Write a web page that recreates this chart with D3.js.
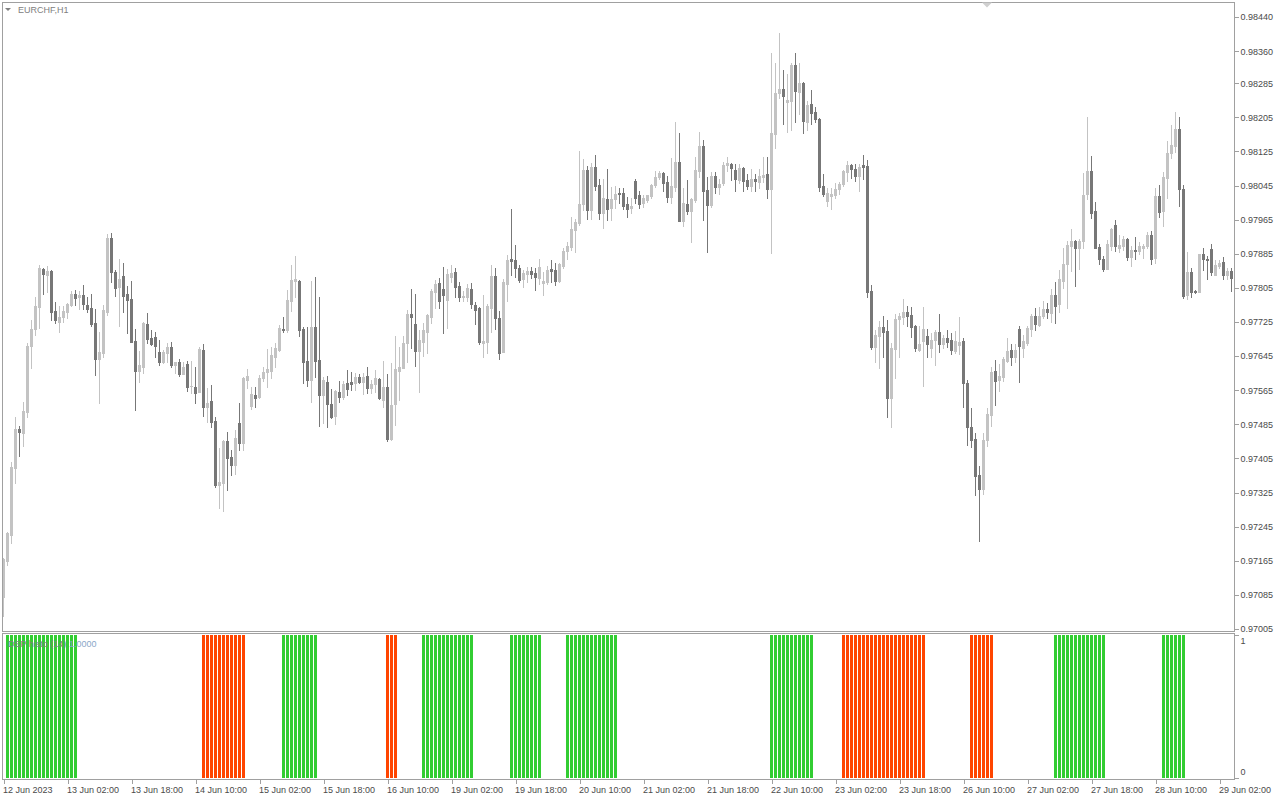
<!DOCTYPE html>
<html>
<head>
<meta charset="utf-8">
<script src="https://cdn.jsdelivr.net/npm/d3@7/dist/d3.min.js"></script>
<style>
html,body{margin:0;padding:0;background:#ffffff;}
svg{display:block;}
text{font-family:"Liberation Sans",Arial,sans-serif;font-size:9px;}
</style>
</head>
<body>
<svg id="chart" width="1280" height="800"></svg>
<script>
// ---------- DATA ----------
const symbolLabel = "EURCHF,H1";
const indicatorName = "DSP histo (14)";
const indicatorValue = "1.0000";

const opens = [
0.97080,0.97165,0.97226,0.97383,0.97474,0.97465,0.97515,0.97669,0.97708,0.97761,
0.97849,0.97835,0.97845,0.97751,0.97726,0.97737,0.97748,0.97765,0.97791,0.97784,
0.97788,0.97765,0.97757,0.97722,0.97637,0.97653,0.97749,0.97921,0.97843,0.97808,
0.97833,0.97791,0.97779,0.97680,0.97611,0.97620,0.97720,0.97688,0.97689,0.97655,
0.97630,0.97653,0.97667,0.97625,0.97631,0.97603,0.97626,0.97574,0.97572,0.97561,
0.97659,0.97526,0.97540,0.97493,0.97343,0.97348,0.97447,0.97408,0.97390,0.97489,
0.97442,0.97589,0.97528,0.97554,0.97550,0.97594,0.97608,0.97611,0.97644,0.97659,
0.97709,0.97705,0.97774,0.97822,0.97821,0.97709,0.97633,0.97589,0.97714,0.97636,
0.97554,0.97584,0.97533,0.97505,0.97561,0.97550,0.97581,0.97584,0.97583,0.97597,
0.97585,0.97598,0.97571,0.97579,0.97591,0.97542,0.97572,0.97451,0.97533,0.97610,
0.97618,0.97676,0.97744,0.97720,0.97658,0.97679,0.97702,0.97737,0.97796,0.97816,
0.97802,0.97777,0.97831,0.97842,0.97809,0.97784,0.97784,0.97802,0.97765,0.97758,
0.97676,0.97679,0.97758,0.97833,0.97735,0.97655,0.97814,0.97873,0.97870,0.97852,
0.97825,0.97837,0.97845,0.97839,0.97829,0.97817,0.97819,0.97849,0.97847,0.97822,
0.97856,0.97892,0.97900,0.97941,0.97958,0.98002,0.98081,0.97988,0.98088,0.98046,
0.97981,0.98013,0.97992,0.98013,0.98027,0.98028,0.98002,0.97993,0.98056,0.98023,
0.98003,0.98011,0.98020,0.98046,0.98064,0.98074,0.98054,0.98017,0.98042,0.98101,
0.97962,0.98002,0.97986,0.98011,0.98080,0.98138,0.98034,0.97999,0.98067,0.98042,
0.98052,0.98093,0.98095,0.98081,0.98058,0.98087,0.98058,0.98045,0.98061,0.98054,
0.98064,0.98072,0.98036,0.98165,0.98263,0.98271,0.98240,0.98243,0.98328,0.98265,
0.98286,0.98195,0.98236,0.98218,0.98201,0.98044,0.98009,0.98020,0.98023,0.98036,
0.98049,0.98077,0.98093,0.98084,0.98068,0.98093,0.98091,0.97798,0.97667,0.97693,
0.97714,0.97704,0.97546,0.97662,0.97731,0.97737,0.97749,0.97741,0.97716,0.97659,
0.97680,0.97692,0.97665,0.97683,0.97702,0.97673,0.97688,0.97683,0.97657,0.97671,
0.97680,0.97581,0.97479,0.97451,0.97366,0.97333,0.97448,0.97508,0.97610,0.97589,
0.97597,0.97634,0.97659,0.97644,0.97709,0.97665,0.97676,0.97709,0.97739,0.97718,
0.97739,0.97755,0.97747,0.97788,0.97766,0.97822,0.97861,0.97902,0.97915,0.97899,
0.97916,0.98024,0.98079,0.97985,0.97900,0.97873,0.97849,0.97904,0.97952,0.97898,
0.97904,0.97920,0.97878,0.97894,0.97892,0.97898,0.97902,0.97929,0.97876,0.98021,
0.97985,0.98062,0.98122,0.98138,0.98178,0.98036,0.97788,0.97843,0.97798,0.97796,
0.97884,0.97873,0.97896,0.97835,0.97856,0.97866,0.97834,0.97845];

const highs = [
0.97172,0.97232,0.97397,0.97501,0.97482,0.97538,0.97676,0.97730,0.97783,0.97859,
0.97851,0.97856,0.97847,0.97772,0.97762,0.97762,0.97769,0.97798,0.97800,0.97798,
0.97812,0.97783,0.97791,0.97755,0.97701,0.97765,0.97931,0.97933,0.97847,0.97872,
0.97863,0.97809,0.97821,0.97709,0.97657,0.97726,0.97745,0.97706,0.97702,0.97683,
0.97659,0.97676,0.97678,0.97632,0.97637,0.97632,0.97633,0.97633,0.97620,0.97666,
0.97673,0.97569,0.97577,0.97501,0.97429,0.97448,0.97468,0.97425,0.97472,0.97536,
0.97597,0.97615,0.97573,0.97573,0.97601,0.97620,0.97661,0.97666,0.97675,0.97718,
0.97737,0.97800,0.97859,0.97880,0.97823,0.97714,0.97714,0.97821,0.97831,0.97784,
0.97597,0.97598,0.97567,0.97565,0.97587,0.97587,0.97612,0.97608,0.97606,0.97603,
0.97606,0.97619,0.97589,0.97612,0.97593,0.97633,0.97603,0.97628,0.97692,0.97667,
0.97692,0.97753,0.97802,0.97791,0.97706,0.97723,0.97743,0.97802,0.97823,0.97827,
0.97855,0.97849,0.97859,0.97851,0.97819,0.97798,0.97814,0.97816,0.97772,0.97761,
0.97788,0.97766,0.97859,0.97852,0.97751,0.97825,0.97882,0.97990,0.97906,0.97859,
0.97848,0.97855,0.97855,0.97851,0.97873,0.97843,0.97856,0.97870,0.97864,0.97864,
0.97898,0.97913,0.97970,0.97966,0.98126,0.98107,0.98091,0.98097,0.98117,0.98060,
0.98060,0.98083,0.98042,0.98044,0.98038,0.98038,0.98017,0.98015,0.98060,0.98031,
0.98023,0.98023,0.98048,0.98079,0.98079,0.98077,0.98067,0.98110,0.98195,0.98167,
0.98038,0.98058,0.98015,0.98113,0.98170,0.98152,0.98066,0.98077,0.98077,0.98060,
0.98101,0.98113,0.98097,0.98095,0.98095,0.98089,0.98072,0.98083,0.98072,0.98083,
0.98113,0.98113,0.98355,0.98333,0.98402,0.98316,0.98306,0.98333,0.98355,0.98332,
0.98288,0.98242,0.98269,0.98230,0.98203,0.98072,0.98038,0.98038,0.98052,0.98054,
0.98081,0.98102,0.98095,0.98095,0.98095,0.98117,0.98105,0.97812,0.97706,0.97727,
0.97740,0.97730,0.97676,0.97743,0.97745,0.97779,0.97762,0.97761,0.97718,0.97716,
0.97761,0.97709,0.97700,0.97706,0.97744,0.97694,0.97706,0.97698,0.97704,0.97737,
0.97688,0.97589,0.97524,0.97464,0.97387,0.97465,0.97524,0.97620,0.97636,0.97626,
0.97644,0.97687,0.97673,0.97673,0.97716,0.97694,0.97716,0.97744,0.97757,0.97761,
0.97775,0.97770,0.97802,0.97818,0.97848,0.97899,0.97915,0.97943,0.97917,0.97919,
0.98074,0.98205,0.98114,0.98007,0.97907,0.97880,0.97917,0.97946,0.97964,0.97929,
0.97927,0.97923,0.97902,0.97925,0.97912,0.97907,0.97937,0.97938,0.98040,0.98046,
0.98077,0.98149,0.98187,0.98218,0.98206,0.98046,0.97890,0.97851,0.97800,0.97884,
0.97898,0.97880,0.97907,0.97870,0.97870,0.97878,0.97852,0.97852];

const lows = [
0.97036,0.97155,0.97207,0.97347,0.97411,0.97435,0.97503,0.97618,0.97694,0.97712,
0.97791,0.97796,0.97730,0.97723,0.97702,0.97724,0.97735,0.97762,0.97765,0.97755,
0.97755,0.97749,0.97716,0.97601,0.97534,0.97644,0.97741,0.97819,0.97786,0.97716,
0.97748,0.97698,0.97679,0.97519,0.97585,0.97606,0.97675,0.97671,0.97644,0.97625,
0.97628,0.97630,0.97619,0.97606,0.97598,0.97602,0.97564,0.97559,0.97534,0.97560,
0.97505,0.97490,0.97479,0.97337,0.97288,0.97282,0.97331,0.97366,0.97368,0.97425,
0.97425,0.97571,0.97520,0.97526,0.97546,0.97587,0.97572,0.97593,0.97620,0.97657,
0.97702,0.97702,0.97751,0.97784,0.97692,0.97583,0.97575,0.97538,0.97597,0.97481,
0.97489,0.97479,0.97499,0.97485,0.97538,0.97544,0.97554,0.97565,0.97565,0.97581,
0.97556,0.97559,0.97559,0.97561,0.97544,0.97525,0.97447,0.97448,0.97483,0.97542,
0.97616,0.97632,0.97663,0.97622,0.97561,0.97646,0.97653,0.97723,0.97757,0.97758,
0.97698,0.97712,0.97819,0.97784,0.97775,0.97775,0.97775,0.97758,0.97720,0.97673,
0.97644,0.97652,0.97702,0.97708,0.97637,0.97655,0.97775,0.97835,0.97831,0.97819,
0.97808,0.97819,0.97827,0.97800,0.97814,0.97788,0.97814,0.97819,0.97812,0.97819,
0.97851,0.97872,0.97894,0.97890,0.97952,0.97988,0.97966,0.97966,0.98034,0.97966,
0.97945,0.97964,0.97964,0.97992,0.98003,0.97989,0.97970,0.97981,0.98003,0.97993,
0.97995,0.98007,0.98015,0.98042,0.98060,0.98031,0.98007,0.98005,0.98031,0.97962,
0.97950,0.97978,0.97913,0.98007,0.98066,0.97964,0.97890,0.97994,0.98027,0.98025,
0.98046,0.98079,0.98058,0.98033,0.98050,0.98033,0.98037,0.98031,0.98031,0.98038,
0.98054,0.98015,0.97886,0.98134,0.98251,0.98189,0.98170,0.98174,0.98195,0.98212,
0.98169,0.98175,0.98189,0.98195,0.98033,0.98020,0.97998,0.97989,0.98015,0.98024,
0.98044,0.98056,0.98063,0.98056,0.98031,0.98060,0.97783,0.97661,0.97632,0.97616,
0.97644,0.97501,0.97478,0.97594,0.97644,0.97720,0.97716,0.97690,0.97657,0.97657,
0.97575,0.97644,0.97644,0.97624,0.97655,0.97665,0.97667,0.97650,0.97652,0.97650,
0.97526,0.97437,0.97432,0.97319,0.97212,0.97322,0.97434,0.97481,0.97530,0.97564,
0.97587,0.97632,0.97624,0.97632,0.97585,0.97644,0.97671,0.97693,0.97706,0.97716,
0.97734,0.97734,0.97726,0.97722,0.97749,0.97805,0.97758,0.97845,0.97810,0.97849,
0.97898,0.98013,0.97968,0.97898,0.97860,0.97845,0.97849,0.97894,0.97891,0.97890,
0.97894,0.97870,0.97857,0.97873,0.97884,0.97876,0.97899,0.97860,0.97864,0.97972,
0.97951,0.98016,0.98109,0.98124,0.97998,0.97782,0.97780,0.97784,0.97792,0.97796,
0.97847,0.97825,0.97835,0.97835,0.97851,0.97826,0.97826,0.97798];

const closes = [
0.97170,0.97230,0.97386,0.97474,0.97468,0.97516,0.97669,0.97709,0.97762,0.97852,
0.97838,0.97845,0.97749,0.97730,0.97737,0.97751,0.97767,0.97791,0.97782,0.97788,
0.97766,0.97755,0.97721,0.97639,0.97654,0.97753,0.97921,0.97843,0.97805,0.97825,
0.97786,0.97777,0.97679,0.97611,0.97624,0.97723,0.97685,0.97673,0.97669,0.97631,
0.97655,0.97667,0.97625,0.97630,0.97603,0.97619,0.97573,0.97575,0.97559,0.97661,
0.97526,0.97536,0.97490,0.97343,0.97350,0.97447,0.97406,0.97390,0.97453,0.97442,
0.97594,0.97599,0.97556,0.97547,0.97594,0.97608,0.97614,0.97648,0.97665,0.97710,
0.97705,0.97777,0.97823,0.97825,0.97706,0.97630,0.97589,0.97714,0.97634,0.97554,
0.97589,0.97533,0.97501,0.97564,0.97550,0.97580,0.97568,0.97580,0.97597,0.97585,
0.97597,0.97571,0.97580,0.97593,0.97547,0.97572,0.97451,0.97530,0.97614,0.97619,
0.97675,0.97744,0.97737,0.97657,0.97683,0.97706,0.97741,0.97798,0.97814,0.97775,
0.97788,0.97837,0.97839,0.97808,0.97784,0.97785,0.97804,0.97766,0.97753,0.97679,
0.97681,0.97763,0.97833,0.97735,0.97653,0.97819,0.97870,0.97869,0.97851,0.97823,
0.97839,0.97845,0.97837,0.97830,0.97853,0.97821,0.97848,0.97845,0.97822,0.97861,
0.97891,0.97903,0.97943,0.97960,0.98002,0.98081,0.97988,0.98088,0.98045,0.97981,
0.98015,0.97989,0.98013,0.98025,0.98026,0.97997,0.97991,0.97997,0.98016,0.98002,
0.98015,0.98023,0.98046,0.98064,0.98074,0.98050,0.98019,0.98044,0.98101,0.97962,
0.98005,0.97986,0.98013,0.98081,0.98138,0.98033,0.97999,0.98067,0.98042,0.98049,
0.98093,0.98097,0.98085,0.98060,0.98085,0.98056,0.98045,0.98060,0.98056,0.98067,
0.98070,0.98036,0.98169,0.98261,0.98271,0.98256,0.98246,0.98328,0.98267,0.98286,
0.98196,0.98234,0.98216,0.98201,0.98042,0.98025,0.98028,0.98025,0.98037,0.98049,
0.98079,0.98093,0.98083,0.98068,0.98089,0.98088,0.97796,0.97667,0.97694,0.97714,
0.97702,0.97546,0.97665,0.97732,0.97740,0.97749,0.97739,0.97714,0.97665,0.97673,
0.97709,0.97673,0.97683,0.97702,0.97673,0.97688,0.97677,0.97659,0.97680,0.97679,
0.97583,0.97479,0.97448,0.97364,0.97333,0.97448,0.97509,0.97608,0.97587,0.97599,
0.97639,0.97657,0.97644,0.97659,0.97669,0.97680,0.97710,0.97739,0.97720,0.97739,
0.97755,0.97749,0.97788,0.97763,0.97826,0.97860,0.97906,0.97915,0.97899,0.97915,
0.98023,0.98079,0.97981,0.97899,0.97872,0.97849,0.97907,0.97943,0.97902,0.97905,
0.97920,0.97878,0.97894,0.97892,0.97903,0.97904,0.97929,0.97873,0.98021,0.97984,
0.98066,0.98122,0.98140,0.98178,0.98036,0.97787,0.97843,0.97795,0.97796,0.97884,
0.97872,0.97870,0.97843,0.97859,0.97864,0.97834,0.97845,0.97827];

// DSP histogram state per bar: 1 = up (green), -1 = down (red), 0 = none
const dspHisto = [
 0, 1, 1, 1, 1, 1, 1, 1, 1, 1, 1, 1, 1, 1, 1, 1, 1, 1, 1, 0,
 0, 0, 0, 0, 0, 0, 0, 0, 0, 0, 0, 0, 0, 0, 0, 0, 0, 0, 0, 0,
 0, 0, 0, 0, 0, 0, 0, 0, 0, 0,-1,-1,-1,-1,-1,-1,-1,-1,-1,-1,
-1, 0, 0, 0, 0, 0, 0, 0, 0, 0, 1, 1, 1, 1, 1, 1, 1, 1, 1, 0,
 0, 0, 0, 0, 0, 0, 0, 0, 0, 0, 0, 0, 0, 0, 0, 0,-1,-1,-1, 0,
 0, 0, 0, 0, 0, 1, 1, 1, 1, 1, 1, 1, 1, 1, 1, 1, 1, 1, 0, 0,
 0, 0, 0, 0, 0, 0, 0, 1, 1, 1, 1, 1, 1, 1, 1, 0, 0, 0, 0, 0,
 0, 1, 1, 1, 1, 1, 1, 1, 1, 1, 1, 1, 1, 1, 0, 0, 0, 0, 0, 0,
 0, 0, 0, 0, 0, 0, 0, 0, 0, 0, 0, 0, 0, 0, 0, 0, 0, 0, 0, 0,
 0, 0, 0, 0, 0, 0, 0, 0, 0, 0, 0, 0, 1, 1, 1, 1, 1, 1, 1, 1,
 1, 1, 1, 0, 0, 0, 0, 0, 0, 0,-1,-1,-1,-1,-1,-1,-1,-1,-1,-1,
-1,-1,-1,-1,-1,-1,-1,-1,-1,-1,-1, 0, 0, 0, 0, 0, 0, 0, 0, 0,
 0, 0,-1,-1,-1,-1,-1,-1, 0, 0, 0, 0, 0, 0, 0, 0, 0, 0, 0, 0,
 0, 0, 0, 1, 1, 1, 1, 1, 1, 1, 1, 1, 1, 1, 1, 1, 0, 0, 0, 0,
 0, 0, 0, 0, 0, 0, 0, 0, 0, 0, 1, 1, 1, 1, 1, 1, 0, 0, 0, 0,
 0, 0, 0, 0, 0, 0, 0, 0];

const priceTicks = [0.98440,0.98360,0.98285,0.98205,0.98125,0.98045,0.97965,0.97885,0.97805,
  0.97725,0.97645,0.97565,0.97485,0.97405,0.97325,0.97245,0.97165,0.97085,0.97005];
const timeTickBars = [0,16,32,48,64,80,96,112,128,144,160,176,192,208,224,240,256,272,288,304];
const timeTickLabels = ["12 Jun 2023","13 Jun 02:00","13 Jun 18:00","14 Jun 10:00","15 Jun 02:00",
  "15 Jun 18:00","16 Jun 10:00","19 Jun 02:00","19 Jun 18:00","20 Jun 10:00","21 Jun 02:00",
  "21 Jun 18:00","22 Jun 10:00","23 Jun 02:00","23 Jun 18:00","26 Jun 10:00","27 Jun 02:00",
  "27 Jun 18:00","28 Jun 10:00","29 Jun 02:00"];
const indTicks = [0, 1];

// ---------- STYLE ----------
const C = {
  up: "#c3c3c3", down: "#777777",
  green: "#32cd32", red: "#ff4500",
  frame: "#a0a0a0", text: "#4a4a4a", label: "#808080"
};
const L = {left: 2, right: 1234, mainTop: 2, mainBottom: 631, indTop: 633, indBottom: 779};

// ---------- DRAW ----------
const N = opens.length;
const svg = d3.select("#chart");
svg.append("rect").attr("width", 1280).attr("height", 800).attr("fill", "#ffffff");

const x = d3.scaleLinear().domain([0, N - 1]).range([3.5, 3.5 + (N - 1) * 4]);
const y = d3.scaleLinear().domain([0.97005, 0.98440]).range([629, 17.06]);
const yi = d3.scaleLinear().domain([0, 1]).range([778, 635]);

const defs = svg.append("defs");
defs.append("clipPath").attr("id", "clipMain").append("rect")
  .attr("x", L.left + 1).attr("y", L.mainTop + 1)
  .attr("width", L.right - L.left - 1).attr("height", L.mainBottom - L.mainTop - 1);
defs.append("clipPath").attr("id", "clipInd").append("rect")
  .attr("x", L.left + 1).attr("y", L.indTop + 1)
  .attr("width", L.right - L.left - 1).attr("height", L.indBottom - L.indTop - 1);

// candles
const gC = svg.append("g").attr("clip-path", "url(#clipMain)").attr("shape-rendering", "crispEdges");
const idx = d3.range(N);
const isUp = i => closes[i] >= opens[i];
gC.selectAll("rect.wick").data(idx).join("rect").attr("class", "wick")
  .attr("x", i => x(i) - 0.5).attr("width", 1)
  .attr("y", i => Math.round(y(highs[i])))
  .attr("height", i => Math.max(1, Math.round(y(lows[i])) - Math.round(y(highs[i])) + 1))
  .attr("fill", i => isUp(i) ? C.up : C.down);
gC.selectAll("rect.body").data(idx).join("rect").attr("class", "body")
  .attr("x", i => x(i) - 1.5).attr("width", 3)
  .attr("y", i => Math.round(y(Math.max(opens[i], closes[i]))))
  .attr("height", i => Math.max(1, Math.round(y(Math.min(opens[i], closes[i]))) - Math.round(y(Math.max(opens[i], closes[i]))) + 1))
  .attr("fill", i => isUp(i) ? C.up : C.down);

// histogram
const gH = svg.append("g").attr("clip-path", "url(#clipInd)").attr("shape-rendering", "crispEdges");
gH.selectAll("rect").data(idx.filter(i => dspHisto[i] !== 0)).join("rect")
  .attr("x", i => x(i) - 1.5).attr("width", 3)
  .attr("y", i => yi(Math.abs(dspHisto[i])))
  .attr("height", i => yi(0) - yi(Math.abs(dspHisto[i])))
  .attr("fill", i => dspHisto[i] > 0 ? C.green : C.red);

// frames
const gF = svg.append("g").attr("shape-rendering", "crispEdges").attr("fill", "none").attr("stroke", C.frame);
gF.append("rect").attr("x", L.left + 0.5).attr("y", L.mainTop + 0.5)
  .attr("width", L.right - L.left).attr("height", L.mainBottom - L.mainTop);
gF.append("rect").attr("x", L.left + 0.5).attr("y", L.indTop + 0.5)
  .attr("width", L.right - L.left).attr("height", L.indBottom - L.indTop);

// price axis
const axP = svg.append("g").attr("transform", `translate(${L.right + 0.5},0)`)
  .call(d3.axisRight(y).tickValues(priceTicks).tickFormat(d => d.toFixed(5)).tickSize(4).tickPadding(2));
axP.select(".domain").remove();
axP.selectAll("line").attr("stroke", C.frame).attr("shape-rendering", "crispEdges");
axP.selectAll("text").attr("fill", C.text).style("font-size", "9px").attr("font-family", null);

// indicator axis
const axI = svg.append("g").attr("transform", `translate(${L.right + 0.5},0)`)
  .call(d3.axisRight(yi).tickValues(indTicks).tickFormat(d3.format("d")).tickSize(4).tickPadding(2));
axI.select(".domain").remove();
axI.selectAll("line").attr("stroke", C.frame).attr("shape-rendering", "crispEdges");
axI.selectAll("text").attr("fill", C.text).style("font-size", "9px")
  .attr("dy", d => d === 1 ? "0.95em" : "-0.35em");

// time axis
const axT = svg.append("g").attr("transform", `translate(0,${L.indBottom + 0.5})`)
  .call(d3.axisBottom(x).tickValues(timeTickBars).tickFormat((d, i) => timeTickLabels[i]).tickSize(4).tickPadding(3));
axT.select(".domain").remove();
axT.selectAll("line").attr("stroke", C.frame).attr("shape-rendering", "crispEdges");
axT.selectAll("text").attr("fill", C.text).style("font-size", "9px").attr("text-anchor", "start").attr("dx", "-1");

// labels
svg.append("path").attr("d", "M5,8 L11,8 L8,11 Z").attr("fill", "#808080");
svg.append("text").attr("x", 18).attr("y", 13).attr("fill", C.label).text(symbolLabel);
svg.append("path").attr("d", "M982,2.5 L992,2.5 L987,7.5 Z").attr("fill", "#d0d0d0");
const it = svg.append("text").attr("x", 8).attr("y", 647).attr("fill", C.label);
it.append("tspan").text(indicatorName + " ");
it.append("tspan").attr("fill", "#8aa6c8").text(indicatorValue);
</script>
</body>
</html>
